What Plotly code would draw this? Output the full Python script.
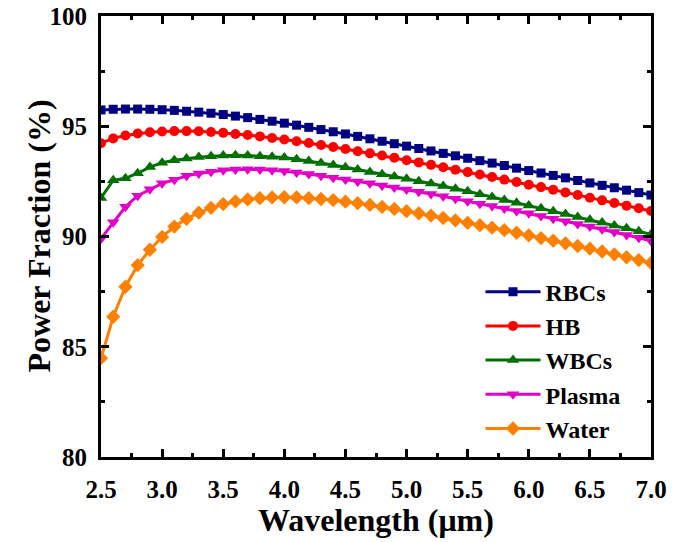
import plotly.graph_objects as go

wavelength = [round(2.5 + 0.1 * i, 1) for i in range(46)]

rbcs = [95.74, 95.77, 95.78, 95.78, 95.77, 95.75, 95.72, 95.68, 95.64, 95.59,
        95.53, 95.46, 95.39, 95.31, 95.23, 95.14, 95.05, 94.95, 94.85, 94.75,
        94.65, 94.54, 94.43, 94.32, 94.21, 94.10, 93.99, 93.88, 93.77, 93.66,
        93.55, 93.44, 93.33, 93.22, 93.10, 92.99, 92.88, 92.77, 92.66, 92.54,
        92.43, 92.32, 92.21, 92.10, 91.99, 91.88]
hb = [94.23, 94.45, 94.58, 94.67, 94.73, 94.76, 94.78, 94.78, 94.77, 94.74,
      94.70, 94.65, 94.60, 94.54, 94.47, 94.40, 94.32, 94.24, 94.15, 94.06,
      93.97, 93.87, 93.77, 93.67, 93.57, 93.46, 93.36, 93.25, 93.14, 93.03,
      92.92, 92.81, 92.70, 92.58, 92.47, 92.35, 92.24, 92.12, 92.00, 91.88,
      91.76, 91.64, 91.52, 91.40, 91.28, 91.16]
wbcs = [91.75, 92.55, 92.64, 92.87, 93.15, 93.35, 93.46, 93.54, 93.60, 93.64,
        93.67, 93.68, 93.67, 93.64, 93.62, 93.58, 93.50, 93.42, 93.33, 93.24,
        93.14, 93.04, 92.93, 92.82, 92.72, 92.62, 92.51, 92.40, 92.29, 92.17,
        92.05, 91.92, 91.79, 91.66, 91.53, 91.41, 91.28, 91.15, 91.02, 90.89,
        90.76, 90.63, 90.50, 90.37, 90.24, 90.10]
plasma = [89.90, 90.65, 91.35, 91.85, 92.14, 92.41, 92.57, 92.75, 92.86, 92.94,
          93.00, 93.04, 93.05, 93.04, 93.01, 92.97, 92.90, 92.83, 92.75, 92.66,
          92.58, 92.50, 92.41, 92.31, 92.22, 92.13, 92.03, 91.93, 91.82, 91.71,
          91.60, 91.49, 91.38, 91.27, 91.16, 91.05, 90.93, 90.81, 90.69, 90.57,
          90.45, 90.33, 90.20, 90.07, 89.94, 89.80]
water = [84.48, 86.36, 87.72, 88.70, 89.40, 89.98, 90.45, 90.80, 91.08, 91.30,
         91.47, 91.59, 91.68, 91.74, 91.77, 91.78, 91.77, 91.74, 91.70, 91.65,
         91.58, 91.51, 91.43, 91.34, 91.25, 91.15, 91.05, 90.95, 90.84, 90.73,
         90.62, 90.51, 90.40, 90.29, 90.17, 90.05, 89.93, 89.81, 89.69, 89.57,
         89.45, 89.32, 89.19, 89.06, 88.93, 88.80]

series_names = ["RBCs", "HB", "WBCs", "Plasma", "Water"]
series_values = [rbcs, hb, wbcs, plasma, water]
colors = ["#000080", "#FF0000", "#007000", "#E000C8", "#FF8000"]
symbols = ["square", "circle", "triangle-up", "triangle-down", "diamond"]
sizes = [9, 10, 11, 11, 11]

x_ticks = [2.5, 3.0, 3.5, 4.0, 4.5, 5.0, 5.5, 6.0, 6.5, 7.0]
x_tick_labels = ["2.5", "3.0", "3.5", "4.0", "4.5", "5.0", "5.5", "6.0", "6.5", "7.0"]
y_ticks = [80, 85, 90, 95, 100]
y_tick_labels = ["80", "85", "90", "95", "100"]

FONT = "Liberation Serif, Times New Roman, serif"

fig = go.Figure()
for name, vals, c, s, sz in zip(series_names, series_values, colors, symbols, sizes):
    fig.add_trace(go.Scatter(
        x=wavelength, y=vals, name=name, mode="lines+markers",
        line=dict(color=c, width=3),
        marker=dict(symbol=s, size=sz, color=c, line=dict(width=0)),
    ))

axis_common = dict(
    showline=True, linecolor="black", linewidth=3, mirror="ticks",
    ticks="inside", ticklen=8, tickwidth=3, tickcolor="black",
    showgrid=False, zeroline=False, automargin=False,
    tickfont=dict(family=FONT, size=25, color="black", weight="bold"),
)

title_font = dict(family=FONT, size=32, color="black", weight="bold")

fig.update_layout(
    width=684, height=542,
    margin=dict(l=93, r=41, t=8, b=93),
    paper_bgcolor="white", plot_bgcolor="white",
    font=dict(family=FONT, color="black"),
    xaxis=dict(
        range=[2.5, 7.0], tickvals=x_ticks, ticktext=x_tick_labels,
        minor=dict(dtick=0.25, tick0=2.5, ticks="inside", ticklen=4, tickwidth=2.5, tickcolor="black"),
        ticklabelstandoff=8,
        **axis_common,
    ),
    yaxis=dict(
        range=[80, 100], tickvals=y_ticks, ticktext=y_tick_labels,
        minor=dict(dtick=2.5, tick0=80, ticks="inside", ticklen=4, tickwidth=2.5, tickcolor="black"),
        ticklabelstandoff=6,
        ticklabeloverflow="allow",
        **axis_common,
    ),
    legend=dict(
        x=0.69, y=0.425, xanchor="left", yanchor="top",
        bgcolor="rgba(0,0,0,0)", borderwidth=0,
        font=dict(family=FONT, size=24, color="black", weight="bold"),
        itemwidth=55, tracegroupgap=0,
    ),
    annotations=[
        dict(text="Wavelength (μm)", xref="paper", yref="paper", x=0.5, y=0,
             yshift=-63, xanchor="center", yanchor="middle", showarrow=False, font=title_font),
        dict(text="Power Fraction (%)", xref="paper", yref="paper", x=0, y=0.5,
             xshift=-63, xanchor="center", yanchor="middle", textangle=-90,
             showarrow=False, font=title_font),
    ],
)

fig.write_html("out.html")
